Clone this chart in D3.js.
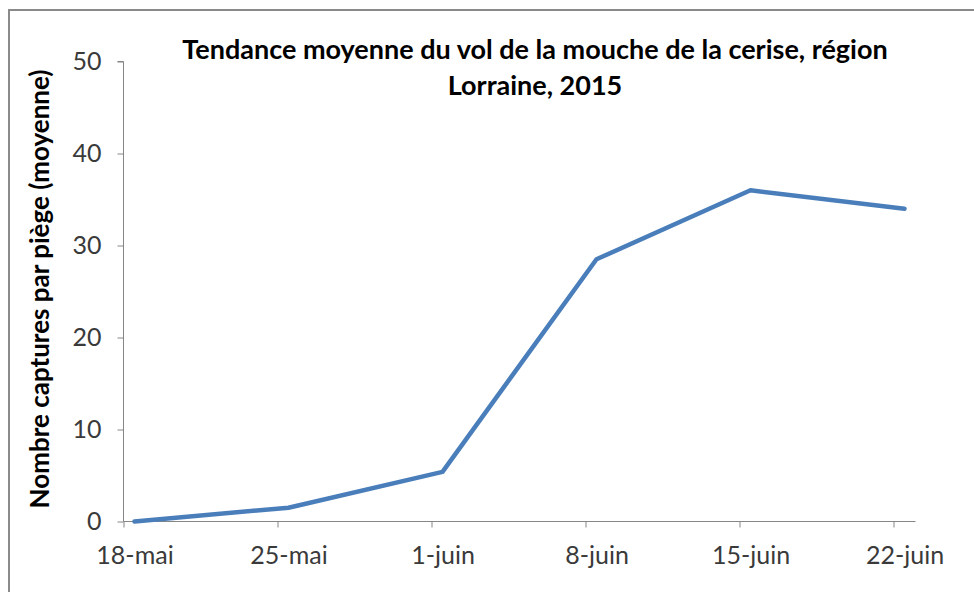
<!DOCTYPE html>
<html><head><meta charset="utf-8">
<script src="https://cdn.jsdelivr.net/npm/d3@7"></script>
<style>body{margin:0;background:#fff}svg{display:block}</style>
</head><body>
<svg id="c" width="974" height="592"></svg>
<script>
const dates = ["2015-05-18","2015-05-25","2015-06-01","2015-06-08","2015-06-15","2015-06-22"];
const values = [0, 1.5, 5.4, 28.5, 36, 34];
const tickDates = ["2015-05-18","2015-05-25","2015-06-01","2015-06-08","2015-06-15","2015-06-22"];
const tickLabels = ["18-mai","25-mai","1-juin","8-juin","15-juin","22-juin"];
const yTicks = [0,10,20,30,40,50];
const title = ["Tendance moyenne du vol de la mouche de la cerise, région","Lorraine, 2015"];
const yTitle = "Nombre captures par piège (moyenne)";

const font = "Lato, 'Open Sans', sans-serif";
const svg = d3.select("#c");
const parse = d3.utcParse("%Y-%m-%d");
const halfDay = 12*3600*1000;
const x = d3.scaleUtc().domain([parse("2015-05-18"), parse("2015-06-23")]).range([123.5, 915.5]);
const y = d3.scaleLinear().domain([0,50]).range([521.5, 61.5]);
const axisColor = "#868686";

// outer border
svg.append("rect").attr("x",9).attr("y",10).attr("width",980).attr("height",600)
  .attr("fill","none").attr("stroke","#8a8a8a").attr("stroke-width",2);

// y axis
const ya = svg.append("g").attr("transform","translate(123.5,0)")
  .call(d3.axisLeft(y).tickValues(yTicks).tickSize(6).tickPadding(10).tickFormat(d3.format("d")));
ya.select(".domain").attr("stroke",axisColor).attr("d", `M-6,${y(50)}H0V${y(0)}`);
ya.selectAll(".tick line").attr("stroke",axisColor);
ya.selectAll(".tick text").attr("font-family",font).attr("font-size",25).attr("fill","#3a3a3a").attr("dx",-6);

// x axis (labels centred on the day interval, as in the original)
const labelShift = x(new Date(parse(tickDates[0]).getTime()+halfDay)) - x(parse(tickDates[0]));
const xa = svg.append("g").attr("transform","translate(0,521.5)")
  .call(d3.axisBottom(x).tickValues(tickDates.map(parse)).tickSize(6).tickPadding(19)
    .tickFormat((d,i)=>tickLabels[i]));
xa.select(".domain").attr("stroke",axisColor).attr("d", `M${x.range()[0]},0H${x.range()[1]}`);
xa.selectAll(".tick line").attr("stroke",axisColor);
xa.selectAll(".tick text").attr("font-family",font).attr("font-size",25).attr("fill","#3a3a3a")
  .attr("x", labelShift);

// line
const pts = dates.map((d,i)=>({t:new Date(parse(d).getTime()+halfDay), v:values[i]}));
svg.append("path").datum(pts)
  .attr("fill","none").attr("stroke","#4a7ebb").attr("stroke-width",4.5)
  .attr("stroke-linejoin","round").attr("stroke-linecap","round")
  .attr("d", d3.line().x(d=>x(d.t)).y(d=>y(d.v)));

// title
svg.append("text").attr("x",535).attr("y",59).attr("text-anchor","middle")
  .attr("font-family",font).attr("font-weight","bold").attr("font-size",27).attr("fill","#000")
  .text(title[0]);
svg.append("text").attr("x",535).attr("y",95).attr("text-anchor","middle")
  .attr("font-family",font).attr("font-weight","bold").attr("font-size",27).attr("fill","#000")
  .text(title[1]);

// y title
svg.append("text").attr("transform","translate(49,289) rotate(-90)").attr("text-anchor","middle")
  .attr("font-family",font).attr("font-weight","bold").attr("font-size",26).attr("fill","#000")
  .text(yTitle);
</script>
</body></html>
